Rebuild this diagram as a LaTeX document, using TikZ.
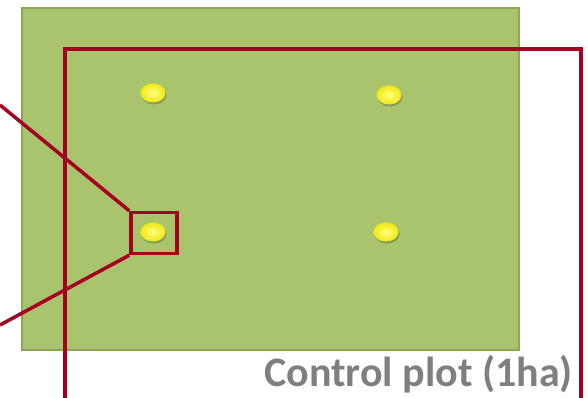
\documentclass[tikz,border=0pt]{standalone}
\usepackage{fontspec}
\setmainfont{Carlito}
\usetikzlibrary{shapes.geometric,shadows,positioning}

\definecolor{plotgreen}{RGB}{169,196,108}
\definecolor{plotedge}{RGB}{140,165,90}
\definecolor{markred}{RGB}{165,0,33}
\definecolor{labelgray}{RGB}{127,127,127}
\definecolor{dotyellow}{RGB}{240,232,20}

\begin{document}
\begin{tikzpicture}[x=1pt,y=-1pt,
            field/.style={draw=plotedge,line width=2pt,fill=plotgreen},
            sample/.style={ellipse,minimum width=25pt,minimum height=19pt,inner sep=0pt,inner color=yellow!50!white,outer color=dotyellow,
                           drop shadow={opacity=0.35,shadow xshift=1pt,shadow yshift=-2pt,fill=black!60!plotgreen}},
            zoombox/.style={draw=markred,line width=3.5pt,minimum width=46pt,minimum height=41pt,inner sep=0pt},
            frame/.style={draw=markred,line width=3.5pt},
            callout/.style={draw=markred,line width=3.5pt},
            every node/.style={font=\bfseries}
  ]
  \useasboundingbox (0,0) rectangle (588,398);

  % green field
  \draw[field] (22,8) rectangle (519,350);

  % sampling points
  \node[sample] (s1) at (153,93) {};
  \node[sample] (s2) at (389,95) {};
  \node[sample] (s3) at (153,232) {};
  \node[sample] (s4) at (386,232) {};

  % control plot outline, running off the bottom
  \draw[frame] (65,398) -- (65,49) -- (581,49) -- (581,398);
  \node[text=labelgray,font=\fontsize{42}{42}\selectfont\bfseries,anchor=base east,inner sep=0pt] (label) at (573,386) {Control plot (1ha)};

  % zoom on one point
  \node[zoombox] (zoom) at (154,233) {};
  \coordinate (callA) at (0,105);
  \coordinate (callB) at (0,325);
  \draw[callout] (callA) -- (zoom.north west);
  \draw[callout] (callB) -- (zoom.south west);

\end{tikzpicture}
\end{document}
